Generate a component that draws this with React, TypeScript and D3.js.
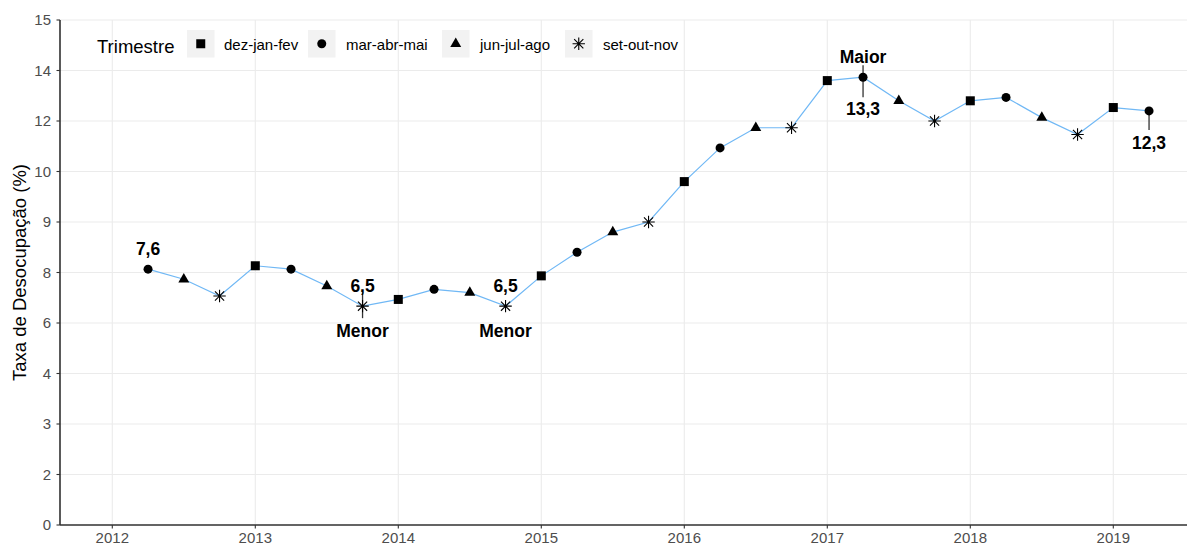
import React from 'react'
import * as d3 from 'd3'

// quarters as decimal years (start month of the moving quarter)
const periods = [
  2012.25, 2012.5, 2012.75,
  2013, 2013.25, 2013.5, 2013.75,
  2014, 2014.25, 2014.5, 2014.75,
  2015, 2015.25, 2015.5, 2015.75,
  2016, 2016.25, 2016.5, 2016.75,
  2017, 2017.25, 2017.5, 2017.75,
  2018, 2018.25, 2018.5, 2018.75,
  2019, 2019.25,
]
const rates = [
  7.6, 7.3, 6.8,
  7.7, 7.6, 7.1, 6.5,
  6.7, 7.0, 6.9, 6.5,
  7.4, 8.1, 8.7, 9.0,
  10.2, 11.2, 11.8, 11.8,
  13.2, 13.3, 12.6, 12.0,
  12.6, 12.7, 12.1, 11.6,
  12.4, 12.3,
]
const quarterNames = ['dez-jan-fev', 'mar-abr-mai', 'jun-jul-ago', 'set-out-nov']
const years = [2012, 2013, 2014, 2015, 2016, 2017, 2018, 2019]
const yBreaks = [0, 1.5, 3, 4.5, 6, 7.5, 9, 10.5, 12, 13.5, 15]
const yTickLabels = ['0', '2', '3', '4', '6', '8', '9', '10', '12', '14', '15']

// annotations: index into the series, labels above / below, and whether a stem is drawn
const notes = [
  { i: 0, above: '7,6', below: '', stem: null as null | [number, number] },
  { i: 6, above: '6,5', below: 'Menor', stem: [-14, 12] as [number, number] },
  { i: 10, above: '6,5', below: 'Menor', stem: null },
  { i: 20, above: 'Maior', below: '13,3', stem: [-12, 20] as [number, number] },
  { i: 28, above: '', below: '12,3', stem: [0, 19] as [number, number] },
]

const W = 1187
const H = 547
const left = 60
const right = W
const top = 20
const bottom = 525
const font = '"Liberation Sans", Arial, sans-serif'

const quarterOf = (p: number) => {
  const f = Math.round((p - Math.floor(p)) * 4)
  return f // 0 dez-jan-fev, 1 mar-abr-mai, 2 jun-jul-ago, 3 set-out-nov
}

const Marker: React.FC<{ kind: number; x: number; y: number }> = ({ kind, x, y }) => {
  if (kind === 0) {
    return <rect x={x - 4.5} y={y - 4.5} width={9} height={9} fill='black' />
  }
  if (kind === 1) {
    return <circle cx={x} cy={y} r={4.5} fill='black' />
  }
  if (kind === 2) {
    const tri = d3.symbol().type(d3.symbolTriangle).size(52)()
    return <path d={tri || ''} transform={`translate(${x},${y})`} fill='black' />
  }
  const r = 6.2
  const d = r * 0.74
  return (
    <path
      d={`M${x - r},${y}H${x + r}M${x},${y - r}V${y + r}M${x - d},${y - d}L${x + d},${y + d}M${x - d},${y + d}L${x + d},${y - d}`}
      stroke='black'
      strokeWidth={1.1}
      fill='none'
    />
  )
}

export default function App() {
  const xScale = d3.scaleLinear().domain([2012, 2019]).range([112.3, 1113.3])
  const yScale = d3.scaleLinear().domain([0, 15]).range([bottom, top])

  const points = periods.map((p, i) => ({ x: xScale(p), y: yScale(rates[i]), q: quarterOf(p) }))
  const line = d3.line<{ x: number; y: number }>().x(d => d.x).y(d => d.y)(points) || ''

  const legendKeys = [187, 308, 442, 565]
  const legendText = [224, 346, 480, 603]

  return (
    <svg width={W} height={H} style={{ position: 'absolute', left: 0, top: 0, background: 'white' }} fontFamily={font}>
      <rect width={W} height={H} fill='white' />
      {/* grid */}
      {yBreaks.map(b => (
        <line key={'gy' + b} x1={left} x2={right} y1={yScale(b)} y2={yScale(b)} stroke='#ebebeb' strokeWidth={1.1} />
      ))}
      {years.map(yr => (
        <line key={'gx' + yr} x1={xScale(yr)} x2={xScale(yr)} y1={top} y2={bottom} stroke='#ebebeb' strokeWidth={1.1} />
      ))}

      {/* series */}
      <path d={line} fill='none' stroke='#70b8f5' strokeWidth={1.2} />

      {/* annotation stems */}
      {notes.filter(n => n.stem).map(n => {
        const p = points[n.i]
        const s = n.stem as [number, number]
        return <line key={'st' + n.i} x1={p.x} x2={p.x} y1={p.y + s[0]} y2={p.y + s[1]} stroke='#333' strokeWidth={1.3} />
      })}

      {points.map((p, i) => (
        <Marker key={'m' + i} kind={p.q} x={p.x} y={p.y} />
      ))}

      {/* annotation labels */}
      {notes.map(n => {
        const p = points[n.i]
        return (
          <g key={'n' + n.i} fontWeight='bold' fontSize={17.5} textAnchor='middle' fill='black'>
            {n.above && <text x={p.x} y={p.y - 14.5}>{n.above}</text>}
            {n.below && <text x={p.x} y={p.y + (n.below === 'Menor' ? 31 : 38)}>{n.below}</text>}
          </g>
        )
      })}

      {/* axes */}
      <line x1={left} x2={left} y1={top} y2={bottom} stroke='black' strokeWidth={1.3} />
      <line x1={left} x2={right} y1={bottom} y2={bottom} stroke='#333' strokeWidth={1.3} />
      {yBreaks.map((b, i) => (
        <g key={'ty' + b}>
          <line x1={left - 3.5} x2={left} y1={yScale(b)} y2={yScale(b)} stroke='#333' strokeWidth={1.1} />
          <text x={51} y={yScale(b)} dy='0.36em' textAnchor='end' fontSize={15} fill='#4d4d4d'>
            {yTickLabels[i]}
          </text>
        </g>
      ))}
      {years.map(yr => (
        <g key={'tx' + yr}>
          <line x1={xScale(yr)} x2={xScale(yr)} y1={bottom} y2={bottom + 3.5} stroke='#333' strokeWidth={1.1} />
          <text x={xScale(yr)} y={543} textAnchor='middle' fontSize={15} fill='#4d4d4d'>
            {yr}
          </text>
        </g>
      ))}
      <text
        transform={`translate(26,${(top + bottom) / 2}) rotate(-90)`}
        textAnchor='middle'
        fontSize={18.5}
        fill='black'
      >
        Taxa de Desocupação (%)
      </text>

      {/* legend */}
      <text x={97} y={52.5} fontSize={18.5} fill='black'>Trimestre</text>
      {quarterNames.map((name, k) => (
        <g key={'lg' + k}>
          <rect x={legendKeys[k]} y={30} width={27.5} height={27.5} fill='#f2f2f2' />
          <Marker kind={k} x={legendKeys[k] + 13.75} y={43.75} />
          <text x={legendText[k]} y={49.5} fontSize={15} fill='black'>{name}</text>
        </g>
      ))}
    </svg>
  )
}
